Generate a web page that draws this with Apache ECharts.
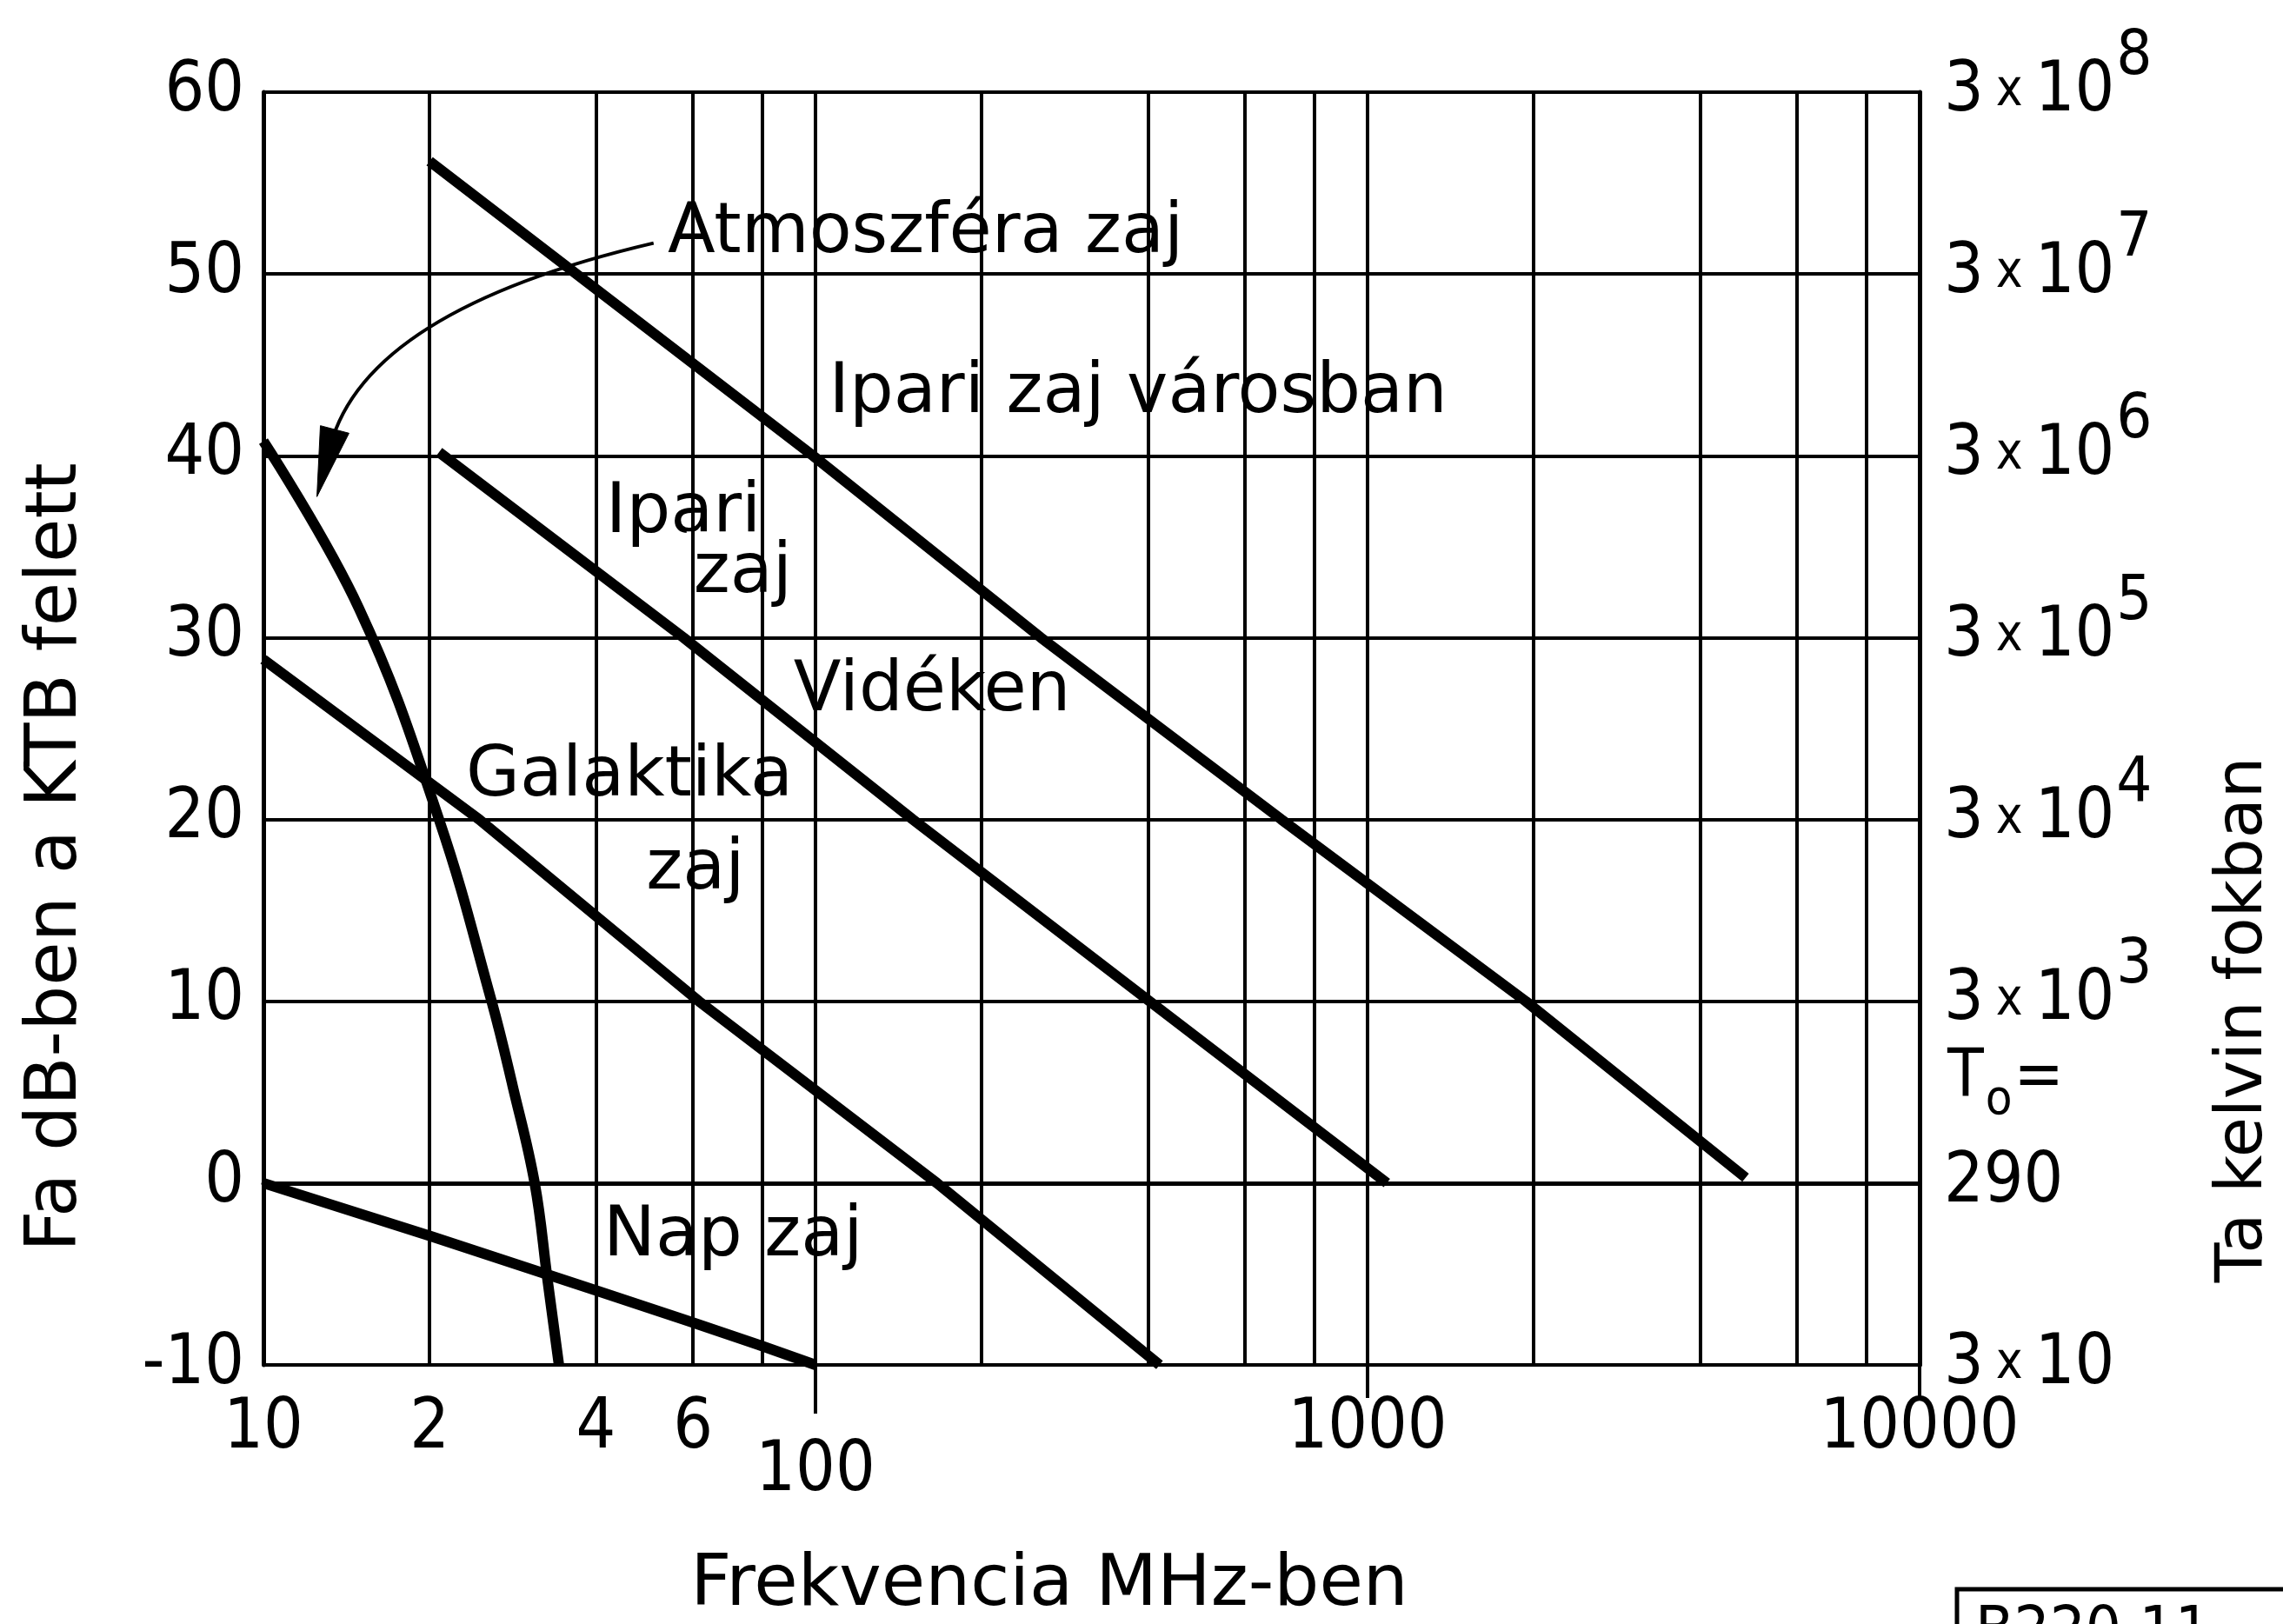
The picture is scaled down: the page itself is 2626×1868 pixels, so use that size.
<!DOCTYPE html>
<html>
<head>
<meta charset="utf-8">
<script src="https://cdn.jsdelivr.net/npm/echarts@6/dist/echarts.min.js"></script>
<style>
  html, body { margin: 0; padding: 0; background: #fff; }
  #chart { width: 2626px; height: 1868px; }
</style>
</head>
<body>
<div id="chart"></div>
<script>
// Noise level (dB above kTB) versus frequency (MHz), log frequency axis.

// Left axis: dB ticks; right axis: equivalent antenna temperature in kelvin
const dbTicks = [-10, 0, 10, 20, 30, 40, 50, 60];
const kelvinBase = ['3 x 10', '290', '3 x 10', '3 x 10', '3 x 10', '3 x 10', '3 x 10', '3 x 10'];
const kelvinExp = ['', '', '3', '4', '5', '6', '7', '8'];

// Frequency axis
const freqTicks = [10, 20, 40, 60, 100, 1000, 10000];
const freqTickLabels = ['10', '2', '4', '6', '100', '1000', '10000'];
const freqGrid = [20, 40, 60, 80, 100, 200, 400, 600, 800, 1000, 2000, 4000, 6000, 8000];
const freqMajor = [100, 1000, 10000];

// Curves
const urbanFreq = [20, 99, 256, 698, 1935, 4840];
const urbanDb = [56.2, 40, 30, 20, 10, 0.3];
const ruralFreq = [20.8, 57.7, 150, 403, 1084];
const ruralDb = [40.2, 30, 20, 10, 0];
const galacticFreq = [10, 24.6, 61.5, 166, 420];
const galacticDb = [28.8, 20, 10, 0, -10];
const solarFreq = [10, 20, 40, 59, 79, 100];
const solarDb = [0, -2.9, -5.9, -7.6, -8.9, -10];
const atmoFreq = [10, 14.9, 20.8, 25.9, 28.3, 31.0, 32.7, 34.3];
const atmoDb = [40.8, 31.6, 20, 10, 5.3, 0, -5.3, -10];

// Pointer from the "Atmoszféra zaj" caption to its curve: start, bend control, tip
const pointerFreq = [50.9, 15.35, 12.5];
const pointerDb = [51.7, 48.0, 37.75];

// Captions inside the plot
const noteText = ['Atmoszféra zaj', 'Ipari zaj városban', 'Ipari', 'zaj', 'Vidéken', 'Galaktika', 'zaj', 'Nap zaj'];
const noteFreq = [53.6, 105, 41.4, 59.7, 90.6, 23.1, 49, 41];
const noteDb = [52.2, 43.4, 36.8, 33.5, 27.0, 22.3, 17.2, -3.0];

// Reference temperature caption beside the right axis
const refTempFreq = 10000;
const refTempDb = 5.7;

const NUM_FONT = "'DejaVu Sans Condensed', 'DejaVu Sans', sans-serif";
const TXT_FONT = "'DejaVu Sans', sans-serif";
const INK = '#000';

const zip = (xs, ys) => xs.map((x, i) => [x, ys[i]]);

function tickIndex(list, v) {
  for (let i = 0; i < list.length; i++) {
    if (Math.abs(Math.log10(v) - Math.log10(list[i])) < 1e-6) return i;
  }
  return -1;
}

function freqLabel(v) {
  const i = tickIndex(freqTicks, v);
  if (i < 0) return '';
  const t = freqTickLabels[i];
  return t === '100' ? '{low|' + t + '}' : '{n|' + t + '}';
}

function kelvinLabel(v) {
  const i = dbTicks.indexOf(Math.round(v));
  if (i < 0) return '';
  const base = kelvinBase[i];
  const exp = kelvinExp[i];
  if (base.indexOf('x') >= 0) {
    const parts = base.split('x').map(s => s.trim());
    return '{b|' + parts[0] + '}{x|x}{b|' + parts[1] + '}' + (exp ? '{s|' + exp + '}' : '');
  }
  return '{b|' + base + '}';
}

// White knock-out behind each caption; vertical gridlines break around the lettering
function captionPadding(text) {
  if (text === 'Atmoszféra zaj') return [20, 8, 6, 8];
  if (text === 'Ipari zaj városban') return [30, 8, 8, 8];
  if (text === 'Vidéken') return [8, 8, 24, 8];
  if (text === 'Nap zaj') return [6, 8, 28, 8];
  return [8, 8, 10, 8];
}

function curve(name, xs, ys, extra) {
  return Object.assign({
    name: name,
    type: 'line',
    data: zip(xs, ys),
    symbol: 'none',
    z: 4,
    lineStyle: { color: INK, width: 12 },
    animation: false
  }, extra || {});
}

function gridLines(name, z, items) {
  return {
    name: name,
    type: 'line',
    data: [],
    z: z,
    silent: true,
    markLine: {
      silent: true,
      symbol: ['none', 'none'],
      label: { show: false },
      lineStyle: { color: INK, width: 4, type: 'solid', opacity: 1 },
      emphasis: { disabled: true },
      animation: false,
      data: items
    }
  };
}

// Thin curved pointer with a narrow wedge head, laid out from data coordinates
function renderPointer(params, api) {
  const p0 = api.coord([pointerFreq[0], pointerDb[0]]);
  const pc = api.coord([pointerFreq[1], pointerDb[1]]);
  const p1 = api.coord([pointerFreq[2], pointerDb[2]]);
  let dx = p1[0] - pc[0], dy = p1[1] - pc[1];
  const len = Math.sqrt(dx * dx + dy * dy) || 1;
  dx /= len; dy /= len;
  const headLen = 80, headHalf = 17;
  const bx = p1[0] - dx * headLen, by = p1[1] - dy * headLen;
  const nx = -dy, ny = dx;
  return {
    type: 'group',
    children: [
      {
        type: 'bezierCurve',
        shape: { x1: p0[0], y1: p0[1], cpx1: pc[0], cpy1: pc[1], x2: bx + dx * 20, y2: by + dy * 20 },
        style: { stroke: INK, lineWidth: 4, fill: null }
      },
      {
        type: 'polygon',
        shape: { points: [[p1[0], p1[1]], [bx + nx * headHalf, by + ny * headHalf], [bx - nx * headHalf, by - ny * headHalf]] },
        style: { fill: INK, stroke: INK, lineWidth: 1 }
      }
    ]
  };
}

// Decade ticks running below the frequency axis
function renderMajorTick(params, api) {
  const f = api.value(0);
  const p = api.coord([f, api.value(1)]);
  const len = Math.abs(f - 100) < 1e-6 ? 56 : 38;
  return {
    type: 'line',
    shape: { x1: p[0], y1: p[1], x2: p[0], y2: p[1] + len },
    style: { stroke: INK, lineWidth: 4 }
  };
}

const chart = echarts.init(document.getElementById('chart'), null, { renderer: 'canvas' });

const option = {
  backgroundColor: '#fff',
  animation: false,
  grid: { left: 303, right: 418, top: 106, bottom: 298 },
  xAxis: {
    type: 'log',
    logBase: 10,
    min: 10,
    max: 10000,
    axisLine: { show: true, lineStyle: { color: INK, width: 5 } },
    axisTick: { show: false },
    splitLine: { show: false },
    minorSplitLine: { show: false },
    axisLabel: {
      customValues: freqTicks,
      formatter: freqLabel,
      margin: 34,
      color: INK,
      rich: {
        n: { fontSize: 80, fontFamily: NUM_FONT, color: INK },
        low: { fontSize: 80, fontFamily: NUM_FONT, color: INK, padding: [49, 0, 0, 0] }
      }
    }
  },
  yAxis: [
    {
      type: 'value',
      min: -10,
      max: 60,
      interval: 10,
      position: 'left',
      axisLine: { show: true, lineStyle: { color: INK, width: 5 } },
      axisTick: { show: false },
      splitLine: { show: false },
      axisLabel: { fontSize: 80, fontFamily: NUM_FONT, color: INK, margin: 22 }
    },
    {
      type: 'value',
      min: -10,
      max: 60,
      interval: 10,
      position: 'right',
      axisLine: { show: true, lineStyle: { color: INK, width: 5 } },
      axisTick: { show: false },
      splitLine: { show: false },
      axisLabel: {
        formatter: kelvinLabel,
        margin: 28,
        align: 'left',
        color: INK,
        rich: {
          b: { fontSize: 80, lineHeight: 80, fontFamily: NUM_FONT, color: INK },
          x: { fontSize: 58, lineHeight: 80, fontFamily: NUM_FONT, color: INK, padding: [0, 14, 0, 14] },
          s: { fontSize: 72, lineHeight: 80, fontFamily: NUM_FONT, color: INK, padding: [0, 0, 80, 2] }
        }
      }
    }
  ],
  series: [
    gridLines('frequency grid', 1, freqGrid.map(v => ({ xAxis: v }))),
    gridLines('level grid', 3, dbTicks.map(v => ({ yAxis: v }))),
    {
      name: 'major ticks',
      type: 'custom',
      z: 3,
      clip: false,
      silent: true,
      animation: false,
      data: freqMajor.map(v => [v, dbTicks[0]]),
      renderItem: renderMajorTick
    },
    {
      name: 'captions',
      type: 'scatter',
      z: 2,
      symbolSize: 0,
      silent: true,
      animation: false,
      itemStyle: { opacity: 1, color: INK },
      data: noteText.map((t, i) => ({
        value: [noteFreq[i], noteDb[i]],
        label: {
          show: true,
          formatter: t,
          position: 'right',
          distance: -6,
          fontSize: 80,
          fontFamily: TXT_FONT,
          color: INK,
          opacity: 1,
          backgroundColor: '#fff',
          padding: captionPadding(t)
        }
      })).concat([{
        value: [refTempFreq, refTempDb],
        label: {
          show: true,
          position: 'right',
          distance: 32,
          opacity: 1,
          formatter: '{t|T}{o|o}{t|=}',
          rich: {
            t: { fontSize: 76, lineHeight: 76, fontFamily: NUM_FONT, color: INK },
            o: { fontSize: 56, lineHeight: 56, fontFamily: NUM_FONT, color: INK, padding: [50, 2, 0, 2] }
          }
        }
      }])
    },
    curve('Ipari zaj városban', urbanFreq, urbanDb),
    curve('Ipari zaj vidéken', ruralFreq, ruralDb),
    curve('Galaktika zaj', galacticFreq, galacticDb),
    curve('Nap zaj', solarFreq, solarDb),
    curve('Atmoszféra zaj', atmoFreq, atmoDb, { smooth: 0.4 }),
    {
      name: 'pointer',
      type: 'custom',
      z: 5,
      silent: true,
      animation: false,
      clip: false,
      data: [[pointerFreq[2], pointerDb[2]]],
      renderItem: renderPointer
    }
  ],
  graphic: [
    {
      type: 'text', x: 66, y: 986, rotation: Math.PI / 2,
      style: {
        text: 'Fa dB-ben a KTB felett', fill: INK,
        font: '82px ' + TXT_FONT,
        align: 'center', verticalAlign: 'middle',
        textAlign: 'center', textVerticalAlign: 'middle'
      }
    },
    {
      type: 'text', x: 2582, y: 1173, rotation: Math.PI / 2,
      style: {
        text: 'Ta kelvin fokban', fill: INK,
        font: '75px ' + TXT_FONT,
        align: 'center', verticalAlign: 'middle',
        textAlign: 'center', textVerticalAlign: 'middle'
      }
    },
    {
      type: 'text', x: 1207, y: 1825,
      style: {
        text: 'Frekvencia MHz-ben', fill: INK,
        font: '82px ' + TXT_FONT,
        align: 'center', verticalAlign: 'middle',
        textAlign: 'center', textVerticalAlign: 'middle'
      }
    },
    {
      type: 'polyline',
      shape: { points: [[2251, 1868], [2251, 1828], [2626, 1828]] },
      style: { stroke: INK, lineWidth: 5, fill: null }
    },
    {
      type: 'text', x: 2272, y: 1843,
      style: {
        text: 'B220.11', fill: INK,
        font: '72px ' + NUM_FONT,
        align: 'left', verticalAlign: 'top',
        textAlign: 'left', textVerticalAlign: 'top'
      }
    }
  ]
};

chart.setOption(option);
</script>
</body>
</html>
